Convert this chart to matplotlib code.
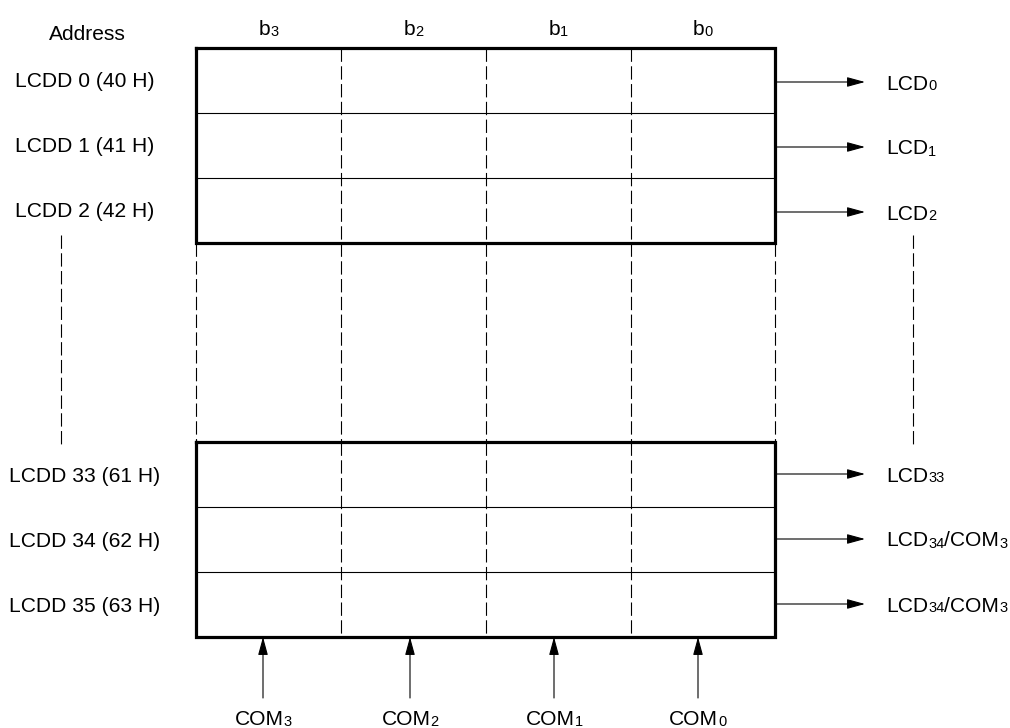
import matplotlib
matplotlib.use("Agg")
import matplotlib.pyplot as plt

plt.rcParams['font.family'] = ['Liberation Sans', 'DejaVu Sans']

# ---- content ----
address_title = "Address"
top_addresses = ["LCDD 0 (40 H)", "LCDD 1 (41 H)", "LCDD 2 (42 H)"]
bottom_addresses = ["LCDD 33 (61 H)", "LCDD 34 (62 H)", "LCDD 35 (63 H)"]
bit_labels = [("b", "3"), ("b", "2"), ("b", "1"), ("b", "0")]
top_outputs = [[("LCD", False), ("0", True)],
               [("LCD", False), ("1", True)],
               [("LCD", False), ("2", True)]]
bottom_outputs = [[("LCD", False), ("33", True)],
                  [("LCD", False), ("34", True), ("/COM", False), ("3", True)],
                  [("LCD", False), ("34", True), ("/COM", False), ("3", True)]]
com_labels = [("COM", "3"), ("COM", "2"), ("COM", "1"), ("COM", "0")]

# ---- layout (pixel coordinates) ----
W, H = 1010, 728
fig = plt.figure(figsize=(W / 100, H / 100), dpi=100)
ax = fig.add_axes([0, 0, 1, 1])
ax.set_xlim(0, W)
ax.set_ylim(H, 0)
ax.axis('off')

col_x = [196, 341, 486, 630.5, 775]
top_box = (48, 243)
bot_box = (442, 637)
n_rows = 3
FS = 15.1
SUB_FS = 10.5
renderer = fig.canvas.get_renderer()

dash = (0, (16, 5.3))


def rich_text(x, y, parts, ha='left'):
    objs = []
    widths = []
    for txt, sub in parts:
        t = ax.text(0, 0, txt, fontsize=SUB_FS if sub else FS,
                    va='baseline', ha='left', color='black')
        bb = t.get_window_extent(renderer)
        objs.append((t, sub))
        widths.append(bb.width)
    total = sum(widths)
    start = x if ha == 'left' else x - total / 2
    cur = start
    for (t, sub), w in zip(objs, widths):
        t.set_position((cur, y + (1.0 if sub else 0)))
        cur += w


def draw_box(y0, y1):
    rows = [y0 + (y1 - y0) * i / n_rows for i in range(n_rows + 1)]
    for yy in rows[1:-1]:
        ax.plot([col_x[0], col_x[-1]], [yy, yy], color='black', lw=0.8)
    for xx in col_x[1:-1]:
        ax.plot([xx, xx], [y0, y1], color='black', lw=0.8, linestyle=(0, (12, 4)))
    ax.plot([col_x[0], col_x[-1], col_x[-1], col_x[0], col_x[0]],
            [y0, y0, y1, y1, y0], color='black', lw=2.3, solid_joinstyle='miter')
    return [(rows[i] + rows[i + 1]) / 2 for i in range(n_rows)]


top_centers = draw_box(*top_box)
bot_centers = draw_box(*bot_box)

# dashed continuation between boxes
for xx in col_x:
    ax.plot([xx, xx], [top_box[1], bot_box[0]], color='black', lw=0.8,
            linestyle=(0, (12, 4)))
ax.plot([61, 61], [235, 445], color='black', lw=0.8, linestyle=(0, (12, 4)))
ax.plot([913, 913], [235, 445], color='black', lw=0.8, linestyle=(0, (12, 4)))

# address labels
ax.text(87, 34, address_title, fontsize=FS, ha='center', va='center')
for yc, lab in zip(top_centers, top_addresses):
    ax.text(85, yc + 1, lab, fontsize=FS, ha='center', va='center')
for yc, lab in zip(bot_centers, bottom_addresses):
    ax.text(85, yc + 2, lab, fontsize=FS, ha='center', va='center')

# bit labels
for i, (b, s) in enumerate(bit_labels):
    xc = (col_x[i] + col_x[i + 1]) / 2
    rich_text(xc, 35, [(b, False), (s, True)], ha='center')

arrow_kw = dict(arrowstyle='-|>,head_length=1.1,head_width=0.3', lw=0.8,
                color='black', shrinkA=0, shrinkB=0, mutation_scale=10)

# output arrows
for yc, parts in zip(top_centers, top_outputs):
    ya = yc + 1.5
    ax.annotate('', xy=(865, ya), xytext=(col_x[-1], ya), arrowprops=arrow_kw)
    rich_text(886, ya + 7.5, parts)
for yc, parts in zip(bot_centers, bottom_outputs):
    ya = yc - 0.5
    ax.annotate('', xy=(865, ya), xytext=(col_x[-1], ya), arrowprops=arrow_kw)
    rich_text(886, ya + 7.5, parts)

# COM arrows
com_x = [263, 410, 554, 698]
for xx, (c, s) in zip(com_x, com_labels):
    ax.annotate('', xy=(xx, bot_box[1]), xytext=(xx, 698), arrowprops=arrow_kw)
    rich_text(xx, 725, [(c, False), (s, True)], ha='center')

fig.savefig('out.png', dpi=100)
